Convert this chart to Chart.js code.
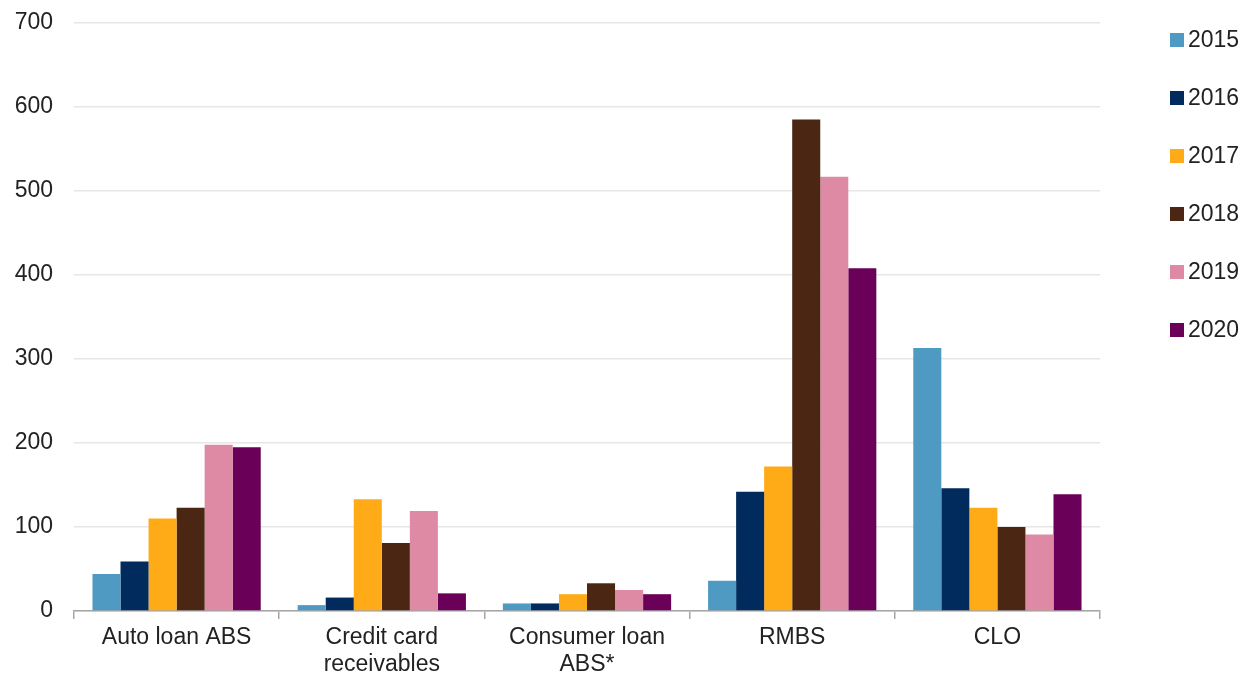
<!DOCTYPE html>
<html>
<head>
<meta charset="utf-8">
<script src="https://cdn.jsdelivr.net/npm/chart.js@4"></script>
<style>
  html, body { margin: 0; padding: 0; background: #fff; }
  #wrap { width: 1243px; height: 674px; }
</style>
</head>
<body>
<div id="wrap"><canvas id="chart" width="1243" height="674"></canvas></div>
<script>
// categories and values
let categories = [
  "Auto loan ABS",
  ["Credit card", "receivables"],
  ["Consumer loan", "ABS*"],
  "RMBS",
  "CLO"
];
let years = ["2015", "2016", "2017", "2018", "2019", "2020"];
let yearColors = ["#4f9ac3", "#002b5c", "#ffab17", "#4a2613", "#de8aa4", "#6a0058"];

let values2015 = [44, 7, 9, 36, 313];
let values2016 = [59, 16, 9, 142, 146];
let values2017 = [110, 133, 20, 172, 123];
let values2018 = [123, 81, 33, 585, 100];
let values2019 = [198, 119, 25, 517, 91];
let values2020 = [195, 21, 20, 408, 139];
let allValues = [values2015, values2016, values2017, values2018, values2019, values2020];

let yTicks = [0, 100, 200, 300, 400, 500, 600, 700];

let font = "'Liberation Sans', Arial, sans-serif";

let datasets = [];
for (let i = 0; i < years.length; i++) {
  datasets.push({
    label: years[i],
    data: allValues[i],
    backgroundColor: yearColors[i],
    borderWidth: 0,
    categoryPercentage: 0.82,
    barPercentage: 1.0
  });
}

// legend drawn at the right, one square + year per row
let sideLegend = {
  id: "sideLegend",
  afterDraw(chart) {
    let ctx = chart.ctx;
    ctx.save();
    ctx.font = "23px " + font;
    ctx.textBaseline = "middle";
    for (let i = 0; i < chart.data.datasets.length; i++) {
      let ds = chart.data.datasets[i];
      let y = 40 + i * 58;
      ctx.fillStyle = ds.backgroundColor;
      ctx.fillRect(1170, y - 7, 14, 14);
      ctx.fillStyle = "#222";
      ctx.fillText(ds.label, 1188, y + 1);
    }
    ctx.restore();
  }
};

let myChart = new Chart(document.getElementById("chart"), {
  type: "bar",
  data: { labels: categories, datasets: datasets },
  plugins: [sideLegend],
  options: {
    responsive: false,
    animation: false,
    layout: { padding: { top: 23, right: 143, bottom: 0, left: 0 } },
    plugins: {
      legend: { display: false },
      tooltip: { enabled: false }
    },
    scales: {
      x: {
        afterFit(axis) {
          axis.height = 63;
          axis.paddingTop = 0;
          axis.paddingBottom = 0;
        },
        grid: {
          offset: true,
          drawOnChartArea: false,
          drawTicks: true,
          tickLength: 8,
          color: "#a6a6a6",
          lineWidth: 1.5
        },
        border: { color: "#a6a6a6", width: 1.5 },
        ticks: {
          color: "#222",
          padding: 5,
          font: { family: font, size: 23, lineHeight: 1.18 }
        }
      },
      y: {
        min: 0,
        max: 700,
        afterBuildTicks(axis) {
          axis.ticks = yTicks.map(v => ({ value: v }));
        },
        afterFit(axis) {
          axis.width = 74;
          axis.paddingTop = 0;
          axis.paddingBottom = 0;
        },
        grid: { color: "#e6e6e6", lineWidth: 1.5, drawTicks: false },
        border: { display: false },
        ticks: {
          color: "#222",
          padding: 21,
          font: { family: font, size: 23 }
        }
      }
    }
  }
});
</script>
</body>
</html>
